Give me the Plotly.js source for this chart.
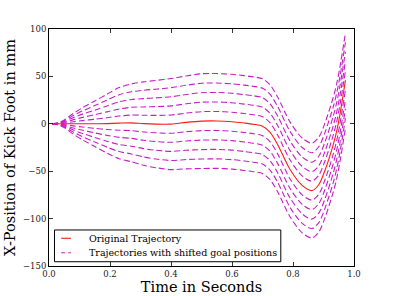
<!DOCTYPE html>
<html>
<head>
<meta charset="utf-8">
<script src="https://cdn.plot.ly/plotly-3.0.1.min.js"></script>
<style>html,body{margin:0;padding:0;background:#fff;}#chart{width:395px;height:296px;}</style>
</head>
<body>
<div id="chart"></div>
<script>
// Time samples (seconds)
const time = [0.01,0.03,0.05,0.08,0.11,0.15,0.19,0.23,0.27,0.31,0.35,0.40,0.45,0.50,0.55,0.60,0.64,0.67,0.70,0.725,0.75,0.79,0.83,0.862,0.885,0.905,0.932,0.943,0.954,0.972];

// Original trajectory (mm)
const original = [0,0,0,0,0,0,0.2,0.7,1,0.2,-0.3,-0.3,1.5,2.8,3,2.2,0.8,-0.5,-2.5,-9,-22,-48,-65,-70.5,-64,-49,-22,-8,10,46];

// Trajectories with shifted goal positions (mm)
const shiftP50 = [0,1,4,11,17,24,31.2,38.2,42,44.2,45.7,47.7,50.5,52.8,53,52.2,50.8,49.5,47.5,41,28,2,-15,-20.5,-14,1,28,42,60,96];
const shiftP40 = [0,0.8,3.2,8.8,13.6,19.2,25,30.7,33.8,35.4,36.5,38.1,40.7,42.8,43,42.2,40.8,39.5,37.5,31,18,-8,-25,-30.5,-24,-9,18,32,50,86];
const shiftP30 = [0,0.6,2.4,6.6,10.2,14.4,18.8,23.2,25.6,26.6,27.3,28.5,30.9,32.8,33,32.2,30.8,29.5,27.5,21,8,-18,-35,-40.5,-34,-19,8,22,40,76];
const shiftP20 = [0,0.4,1.6,4.4,6.8,9.6,12.6,15.7,17.4,17.8,18.1,18.9,21.1,22.8,23,22.2,20.8,19.5,17.5,11,-2,-28,-45,-50.5,-44,-29,-2,12,30,66];
const shiftP10 = [0,0.2,0.8,2.2,3.4,4.8,6.4,8.2,9.2,9,8.9,9.3,11.3,12.8,13,12.2,10.8,9.5,7.5,1,-12,-38,-55,-60.5,-54,-39,-12,2,20,56];
const shiftM10 = [0,-0.2,-0.8,-2.2,-3.4,-4.8,-6,-6.8,-7.2,-8.6,-9.5,-9.9,-8.3,-7.2,-7,-7.8,-9.2,-10.5,-12.5,-19,-32,-58,-75,-80.5,-74,-59,-32,-18,0,36];
const shiftM20 = [0,-0.4,-1.6,-4.4,-6.8,-9.6,-12.2,-14.3,-15.4,-17.4,-18.7,-19.5,-18.1,-17.2,-17,-17.8,-19.2,-20.5,-22.5,-29,-42,-68,-85,-90.5,-84,-69,-42,-28,-10,26];
const shiftM30 = [0,-0.6,-2.4,-6.6,-10.2,-14.4,-18.4,-21.8,-23.6,-26.2,-27.9,-29.1,-27.9,-27.2,-27,-27.8,-29.2,-30.5,-32.5,-39,-52,-78,-95,-100.5,-94,-79,-52,-38,-20,16];
const shiftM40 = [0,-0.8,-3.2,-8.8,-13.6,-19.2,-24.6,-29.3,-31.8,-35,-37.1,-38.7,-37.7,-37.2,-37,-37.8,-39.2,-40.5,-42.5,-49,-62,-88,-105,-110.5,-104,-89,-62,-48,-30,6];
const shiftM50 = [0,-1,-4,-11,-17,-24,-30.8,-36.8,-40,-43.8,-46.3,-48.3,-47.5,-47.2,-47,-47.8,-49.2,-50.5,-52.5,-59,-72,-98,-115,-120.5,-114,-99,-72,-58,-40,-4];

const xTicks = [0.0,0.2,0.4,0.6,0.8,1.0];
const xTickLabels = ["0.0","0.2","0.4","0.6","0.8","1.0"];
const yTicks = [-150,-100,-50,0,50,100];
const legendLabels = ["Original Trajectory","Trajectories with shifted goal positions"];

const MAG = '#c61ec6';
const RED = '#ff1a1a';
const FONT = 'DejaVu Serif, serif';

const shifted = [shiftP50,shiftP40,shiftP30,shiftP20,shiftP10,shiftM10,shiftM20,shiftM30,shiftM40,shiftM50];
const traces = shifted.map(s => ({
  x: time, y: s, type: 'scatter', mode: 'lines',
  line: {color: MAG, width: 1.1, dash: '6px,3px', shape: 'spline', smoothing: 0.8},
  hoverinfo: 'skip', showlegend: false
}));
traces.push({
  x: time, y: original, type: 'scatter', mode: 'lines',
  line: {color: RED, width: 1.1, shape: 'spline', smoothing: 0.8},
  hoverinfo: 'skip', showlegend: false
});

const axisCommon = {
  showgrid: false, zeroline: false, showline: true, linecolor: '#000', linewidth: 1,
  mirror: 'allticks', ticks: 'inside', ticklen: 4, tickwidth: 0.8, tickcolor: '#000',
  tickfont: {family: FONT, size: 8.5, color: '#222'}
};

const layout = {
  width: 395, height: 296,
  margin: {l: 48.5, r: 41, t: 29.3, b: 30},
  paper_bgcolor: '#fff', plot_bgcolor: '#fff',
  showlegend: false,
  xaxis: Object.assign({}, axisCommon, {
    range: [0, 1], tickmode: 'array', tickvals: xTicks, ticktext: xTickLabels,
    title: {text: 'Time in Seconds', font: {family: FONT, size: 14.5, color: '#000'}, standoff: 3}
  }),
  yaxis: Object.assign({}, axisCommon, {
    range: [-150, 100], tickmode: 'array', tickvals: yTicks,
    title: {text: 'X-Position of Kick Foot in mm', font: {family: FONT, size: 14.5, color: '#000'}, standoff: 3}
  }),
  shapes: [
    {type: 'rect', xref: 'paper', yref: 'paper', x0: 0.018, x1: 0.760, y0: 0.018, y1: 0.152,
     line: {color: '#000', width: 1}, fillcolor: '#fff', layer: 'above'},
    {type: 'line', xref: 'paper', yref: 'paper', x0: 0.040, x1: 0.072, y0: 0.117, y1: 0.117,
     line: {color: RED, width: 1.1}, layer: 'above'},
    {type: 'line', xref: 'paper', yref: 'paper', x0: 0.040, x1: 0.072, y0: 0.056, y1: 0.056,
     line: {color: MAG, width: 1.1, dash: '4px,3px'}, layer: 'above'}
  ],
  annotations: [
    {xref: 'paper', yref: 'paper', x: 0.123, y: 0.117, xanchor: 'left', yanchor: 'middle',
     text: legendLabels[0], showarrow: false, font: {family: FONT, size: 9.5, color: '#000'}},
    {xref: 'paper', yref: 'paper', x: 0.123, y: 0.056, xanchor: 'left', yanchor: 'middle',
     text: legendLabels[1], showarrow: false, font: {family: FONT, size: 9.5, color: '#000'}}
  ]
};

Plotly.newPlot('chart', traces, layout, {displayModeBar: false, staticPlot: true});
</script>
</body>
</html>
